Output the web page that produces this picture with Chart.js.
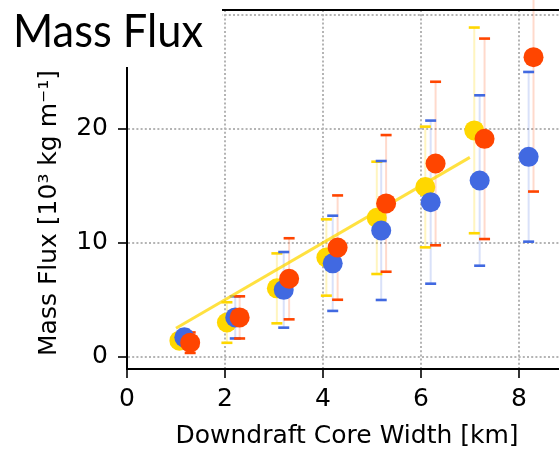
<!DOCTYPE html>
<html>
<head>
<meta charset="utf-8">
<script src="https://cdn.jsdelivr.net/npm/chart.js@4/dist/chart.umd.min.js"></script>
<style>
  html, body { margin: 0; padding: 0; background: #ffffff; }
  canvas { display: block; }
</style>
</head>
<body>
<canvas id="c" width="559" height="450"></canvas>
<script>
// Axis ticks
const xTicks = [0, 2, 4, 6, 8];
const yTicks = [0, 10, 20, 30];

// Gold series: mean core width, mean mass flux, spread
const goldX = [1.07, 2.04, 3.06, 4.07, 5.10, 6.09, 7.09];
const goldY = [1.41, 3.00, 6.00, 8.71, 12.19, 14.90, 19.87];
const goldErr = [0.60, 1.78, 3.07, 3.35, 4.93, 5.30, 9.03];

// Blue series
const blueX = [1.17, 2.21, 3.20, 4.20, 5.19, 6.20, 7.20, 8.20];
const blueY = [1.70, 3.45, 5.87, 8.20, 11.08, 13.57, 15.47, 17.55];
const blueErr = [0.65, 1.85, 3.32, 4.18, 6.10, 7.16, 7.48, 7.45];

// Red series
const redX = [1.29, 2.30, 3.31, 4.30, 5.29, 6.30, 7.30, 8.30];
const redY = [1.23, 3.45, 6.84, 9.58, 13.46, 16.96, 19.13, 26.30];
const redErr = [0.90, 1.85, 3.56, 4.58, 6.00, 7.18, 8.80, 11.80];

// Linear fit drawn over the gold series
const fitX = [1, 7];
const fitY = [2.5, 17.5];

const GOLD = '#FFD700', BLUE = '#4169E1', RED = '#FF4500';

const series = [
  { x: goldX, y: goldY, e: goldErr, color: GOLD, light: 'rgba(255,215,0,0.25)' },
  { x: blueX, y: blueY, e: blueErr, color: BLUE, light: 'rgba(65,105,225,0.2)' },
  { x: redX, y: redY, e: redErr, color: RED, light: 'rgba(255,69,0,0.2)' }
];

const pts = (xs, ys) => xs.map((v, i) => ({ x: v, y: ys[i] }));

// Vertical error bars with caps, drawn beneath the markers
const errorBars = {
  id: 'errorBars',
  beforeDatasetsDraw(chart) {
    const { ctx, scales: { x, y } } = chart;
    ctx.save();
    ctx.setLineDash([]);
    ctx.lineCap = 'butt';
    series.forEach(s => {
      ctx.strokeStyle = s.light;
      ctx.lineWidth = 2;
      s.x.forEach((xv, i) => {
        const px = x.getPixelForValue(xv);
        ctx.beginPath();
        ctx.moveTo(px, y.getPixelForValue(s.y[i] - s.e[i]));
        ctx.lineTo(px, y.getPixelForValue(s.y[i] + s.e[i]));
        ctx.stroke();
      });
    });
    series.forEach(s => {
      ctx.strokeStyle = s.color;
      ctx.lineWidth = 2.6;
      s.x.forEach((xv, i) => {
        const px = x.getPixelForValue(xv);
        [s.y[i] - s.e[i], s.y[i] + s.e[i]].forEach(v => {
          const py = y.getPixelForValue(v);
          ctx.beginPath();
          ctx.moveTo(px - 5.5, py);
          ctx.lineTo(px + 5.5, py);
          ctx.stroke();
        });
      });
    });
    ctx.restore();
  }
};

// Top spine, title panel and axis titles
const decorations = {
  id: 'decorations',
  afterDraw(chart) {
    const { ctx, chartArea: a } = chart;
    ctx.save();
    ctx.setLineDash([]);
    ctx.strokeStyle = '#000';
    ctx.lineWidth = 2;
    ctx.beginPath();
    ctx.moveTo(a.left, a.top);
    ctx.lineTo(a.right, a.top);
    ctx.stroke();

    ctx.fillStyle = '#ffffff';
    ctx.fillRect(0, 0, 222, 67);

    ctx.fillStyle = '#000';
    ctx.textAlign = 'left';
    ctx.textBaseline = 'alphabetic';
    ctx.font = '47px Lato';
    const title = 'Mass Flux';
    const w = ctx.measureText(title).width;
    ctx.save();
    ctx.translate(13, 47);
    ctx.scale(190 / w, 1);
    ctx.fillText(title, 0, 0);
    ctx.restore();

    ctx.font = '25px "DejaVu Sans"';
    ctx.textAlign = 'center';
    ctx.fillText('Downdraft Core Width [km]', 347, 443);

    ctx.translate(56, 213);
    ctx.rotate(-Math.PI / 2);
    ctx.fillText('Mass Flux [10\u00B3 kg m\u207B\u00B9]', 0, 0);
    ctx.restore();
  }
};

const gridOpts = {
  color: '#b4b4b4',
  lineWidth: 2,
  tickColor: '#000',
  tickWidth: 1.6,
  tickLength: 9,
  tickBorderDash: []
};

const borderOpts = { color: '#000', width: 2, dash: [2, 2.2] };

const tickFont = { family: 'DejaVu Sans', size: 25 };

new Chart(document.getElementById('c'), {
  type: 'scatter',
  data: {
    datasets: [
      { label: 'red', data: pts(redX, redY), backgroundColor: RED, borderWidth: 0, pointRadius: 10, order: 0 },
      { label: 'blue', data: pts(blueX, blueY), backgroundColor: BLUE, borderWidth: 0, pointRadius: 10, order: 1 },
      { label: 'gold', data: pts(goldX, goldY), backgroundColor: GOLD, borderWidth: 0, pointRadius: 10, order: 2 },
      { label: 'fit', type: 'line', data: pts(fitX, fitY), borderColor: 'rgba(255,215,0,0.75)', borderWidth: 3,
        pointRadius: 0, fill: false, order: 3 }
    ]
  },
  options: {
    responsive: false,
    animation: false,
    devicePixelRatio: 1,
    layout: { autoPadding: false, padding: { top: 10, right: 0, bottom: 0, left: 0 } },
    plugins: { legend: { display: false }, tooltip: { enabled: false } },
    scales: {
      x: {
        type: 'linear',
        min: 0,
        max: 8.82,
        afterBuildTicks: s => { s.ticks = xTicks.map(v => ({ value: v })); },
        afterFit: s => { s.height = 81; s.paddingLeft = 0; s.paddingRight = 0; },
        grid: gridOpts,
        border: borderOpts,
        ticks: { font: tickFont, color: '#000', padding: 6, maxRotation: 0, autoSkip: false }
      },
      y: {
        type: 'linear',
        min: -1.08,
        max: 30.44,
        afterBuildTicks: s => { s.ticks = yTicks.map(v => ({ value: v })); },
        afterFit: s => { s.width = 127; s.paddingTop = 0; s.paddingBottom = 0; },
        grid: gridOpts,
        border: borderOpts,
        ticks: { font: tickFont, color: '#000', padding: 10, autoSkip: false }
      }
    }
  },
  plugins: [errorBars, decorations]
});
</script>
</body>
</html>
